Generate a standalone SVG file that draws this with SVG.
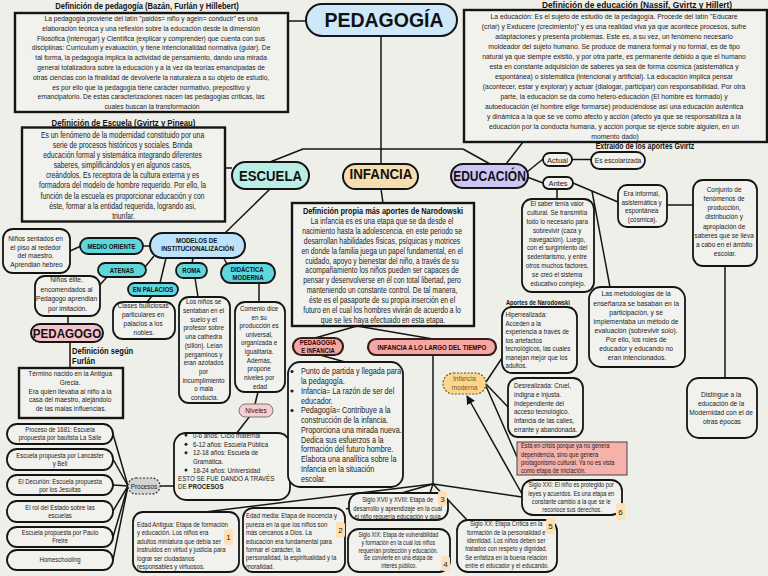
<svg xmlns="http://www.w3.org/2000/svg" width="768" height="576" viewBox="0 0 768 576">
<defs>
<style>
.t{font-family:"Liberation Sans",Arial,sans-serif;fill:#222}
.k{fill:#111}
.m{text-anchor:middle}
.b{font-weight:bold}
.bx{fill:#f1f1ed;stroke:#151515;stroke-width:1.8}
.sq{fill:#f1f1ed;stroke:#151515;stroke-width:2.4}
.ln{stroke:#151515;stroke-width:1.5;fill:none}
.pl{stroke:#151515;stroke-width:2}
.cy{fill:#5dd6dc;stroke:#151515;stroke-width:1.8}
.sal{fill:#f5a8a3;stroke:#3a1a1a;stroke-width:2.2}
.bd{fill:#fde1b4}
</style>
<marker id="ah" viewBox="0 0 10 10" refX="9" refY="5" markerWidth="6" markerHeight="6" orient="auto"><path d="M0,0 L10,5 L0,10z" fill="#151515"/></marker>
</defs>
<rect width="768" height="576" fill="#efefea"/>

<g id="connectors">
<line class="ln" x1="288" y1="21" x2="306" y2="21"/>
<line class="ln" x1="381" y1="36" x2="381" y2="164"/>
<line class="ln" x1="303" y1="149" x2="463" y2="149"/>
<line class="ln" x1="303" y1="149" x2="270" y2="162"/>
<line class="ln" x1="463" y1="149" x2="490" y2="164"/>
<line class="ln" x1="523" y1="142" x2="506" y2="164"/>
<line class="ln" x1="225" y1="168" x2="232" y2="168"/>
<line class="ln" x1="270" y1="189" x2="224" y2="234"/>
<line class="ln" x1="381" y1="189" x2="383" y2="203"/>
<line class="ln" x1="527" y1="172" x2="543" y2="159"/>
<line class="ln" x1="527" y1="177" x2="543" y2="183"/>
<line class="ln" x1="572" y1="159.5" x2="591" y2="159.5"/>
<line class="ln" x1="573" y1="183" x2="618" y2="202"/>
<line class="ln" x1="592" y1="191" x2="610" y2="287"/>
<line class="ln" x1="557" y1="189" x2="557" y2="199"/>
<line class="ln" x1="667" y1="205" x2="693" y2="205" stroke-width="2.2"/>
<line class="ln" x1="725" y1="266" x2="725" y2="378" stroke-width="2.2"/>
<line class="ln" x1="143" y1="246" x2="150" y2="246"/>
<line class="ln" x1="70" y1="251" x2="81" y2="246"/>
<line class="ln" x1="145" y1="267" x2="154" y2="256"/>
<line class="ln" x1="160" y1="283" x2="166" y2="258"/>
<line class="ln" x1="98" y1="287" x2="107" y2="277"/>
<line class="ln" x1="152" y1="296" x2="147" y2="302"/>
<line class="ln" x1="193" y1="258" x2="192" y2="263"/>
<line class="ln" x1="222" y1="255" x2="227" y2="264"/>
<line class="ln" x1="195" y1="278" x2="198" y2="297"/>
<line class="ln" x1="259" y1="283" x2="259" y2="302"/>
<line class="ln" x1="258" y1="392" x2="255" y2="404"/>
<line class="ln" x1="250" y1="416" x2="236" y2="434"/>
<line class="ln" x1="68" y1="316" x2="68" y2="324"/>
<line class="ln" x1="70" y1="342" x2="70" y2="368"/>
<line class="ln" x1="113" y1="434" x2="128" y2="486"/>
<line class="ln" x1="113" y1="459" x2="128" y2="486"/>
<line class="ln" x1="113" y1="485" x2="128" y2="486"/>
<line class="ln" x1="113" y1="511" x2="128" y2="486"/>
<line class="ln" x1="113" y1="537" x2="128" y2="486"/>
<line class="ln" x1="113" y1="560" x2="128" y2="486"/>
<line class="ln" x1="160" y1="486" x2="174" y2="486"/>
<line class="ln" x1="357" y1="326" x2="315" y2="338"/>
<line class="ln" x1="357" y1="326" x2="433" y2="339"/>
<line class="ln" x1="320" y1="355" x2="345" y2="362"/>
<line class="ln" x1="433" y1="355" x2="433" y2="484"/>
<line class="ln" x1="433" y1="484" x2="205" y2="512"/>
<line class="ln" x1="433" y1="484" x2="346" y2="509"/>
<line class="ln" x1="433" y1="484" x2="430" y2="493"/>
<line class="ln" x1="433" y1="484" x2="468" y2="521"/>
<line class="ln" x1="433" y1="484" x2="522" y2="497"/>
<line class="ln" x1="522" y1="494" x2="467" y2="396" marker-end="url(#ah)"/>
<line class="ln" x1="486" y1="382" x2="502" y2="358"/>
<line class="ln" x1="486" y1="384" x2="508" y2="407"/>
<line class="ln" x1="486" y1="386" x2="517" y2="457"/>
</g>

<g id="n-def-pedagogia">
<g transform="translate(147 0) scale(.8 1)"><text class="t k b m" font-size="9.5" x="0" y="9.3">Definición de pedagogía (Bazán, Furlán y Hillebert)</text></g>
<rect class="sq" x="15" y="13" width="273" height="99"/>
<g transform="translate(152 0) scale(.83 1)"><text class="t m" font-size="8">
<tspan x="0" y="21">La pedagogía proviene del latín "paidós= niño y agein= conducir" es una</tspan>
<tspan x="0" y="30.8">elaboración teórica y una reflexión sobre la educación desde la dimensión</tspan>
<tspan x="0" y="40.6">Filosófica (interrogar) y Científica (explicar y comprender) que cuenta con sus</tspan>
<tspan x="0" y="50.4">disciplinas: Curriculum y evaluación, y tiene intencionalidad normativa (guiar). De</tspan>
<tspan x="0" y="60.2">tal forma, la pedagogía implica la actividad de pensamiento, dando una mirada</tspan>
<tspan x="0" y="70">general  totalizadora sobre la educación y a la vez da teorías emancipadas de</tspan>
<tspan x="0" y="79.8">otras ciencias con la finalidad de devolverle la naturaleza a su objeto de estudio,</tspan>
<tspan x="0" y="89.6">es por ello que la pedagogía tiene carácter normativo, prepositivo y</tspan>
<tspan x="0" y="99.4">emancipatorio. De estas caracterizaciones nacen las pedagogías críticas, las</tspan>
<tspan x="0" y="109.2">cuales buscan la transformación</tspan>
</text></g>
</g>

<g id="n-pedagogia">
<rect x="306" y="4" width="151" height="32" rx="16" fill="#cde8fb" class="pl"/>
<text class="t k b m" font-size="19.5" x="384" y="27.3">PEDAGOGÍA</text>
</g>

<g id="n-def-educacion">
<g transform="translate(637 0) scale(.88 1)"><text class="t k b m" font-size="9.5" x="0" y="8.3">Definición de educación (Nassif, Gvirtz y Hillert)</text></g>
<rect class="sq" x="464" y="10" width="303" height="132"/>
<g transform="translate(615 0) scale(.85 1)"><text class="t m" font-size="8">
<tspan x="0" y="19">La educación: Es el sujeto de estudio de la pedagogía. Procede del latín "Educare</tspan>
<tspan x="0" y="29">(criar) y Exducere (crecimiento)" y es una realidad viva ya que acontece procesos, sufre</tspan>
<tspan x="0" y="39">adaptaciones y presenta problemas. Este es, a su vez, un fenómeno necesario</tspan>
<tspan x="0" y="49">moldeador del sujeto humano. Se produce de manera formal y no formal, es de tipo</tspan>
<tspan x="0" y="59">natural ya que siempre existió, y por otra parte,  es permanente debido a que el humano</tspan>
<tspan x="0" y="69">esta en constante adquisición de saberes ya sea de forma cósmica (asistemática y</tspan>
<tspan x="0" y="79">espontánea) o sistemática (intencional y artificial). La educación implica pensar</tspan>
<tspan x="0" y="89">(acontecer, estar y explorar) y actuar (dialogar, participar) con responsabilidad. Por otra</tspan>
<tspan x="0" y="99">parte, la educación se da como hetero-educación (El hombre es formado) y</tspan>
<tspan x="0" y="109">autoeducación (el hombre elige formarse) produciéndose así  una educación auténtica</tspan>
<tspan x="0" y="119">y dinámica a la que se ve como afecto y acción (afecto ya que se responsabiliza a la</tspan>
<tspan x="0" y="129">educación por la conducta humana, y acción porque se ejerce sobre alguien, en un</tspan>
<tspan x="0" y="139">momento dado)</tspan>
</text></g>
</g>

<g id="n-def-escuela">
<g transform="translate(123.5 0) scale(.82 1)"><text class="t k b m" font-size="9.5" x="0" y="126">Definición de Escuela (Gvirtz y Pineau)</text></g>
<rect class="sq" x="22" y="127.5" width="203" height="94"/>
<g transform="translate(123.5 0) scale(.82 1)"><text class="t m" font-size="8.3">
<tspan x="0" y="138">Es un fenómeno de la modernidad constituido por una</tspan>
<tspan x="0" y="148.1">serie de procesos históricos y sociales. Brinda</tspan>
<tspan x="0" y="158.2">educación formal y sistemática integrando diferentes</tspan>
<tspan x="0" y="168.3">saberes, simplificándolos y en algunos casos,</tspan>
<tspan x="0" y="178.4">creándolos. Es receptora de la cultura externa y es</tspan>
<tspan x="0" y="188.5">formadora del modelo de hombre requerido. Por ello,  la</tspan>
<tspan x="0" y="198.6">función de la escuela es proporcionar educación y con</tspan>
<tspan x="0" y="208.7">éste, formar a la entidad requerida,  logrando asi,</tspan>
<tspan x="0" y="218.6">triunfar.</tspan>
</text></g>
</g>

<g id="n-escuela">
<rect x="232" y="162" width="77" height="27" rx="13.5" fill="#b9eee5" class="pl"/>
<g transform="translate(270.5 0) scale(.85 1)"><text class="t k b m" font-size="15.5" x="0" y="181.5">ESCUELA</text></g>
</g>

<g id="n-infancia">
<rect x="343" y="164" width="75" height="25" rx="12.5" fill="#f6deb0" class="pl"/>
<g transform="translate(381 0) scale(.86 1)"><text class="t k b m" font-size="15.5" x="0" y="179.5">INFANCIA</text></g>
</g>

<g id="n-educacion">
<rect x="451" y="164" width="77" height="24" rx="12" fill="#cdc5f5" class="pl"/>
<g transform="translate(489.5 0) scale(.8 1)"><text class="t k b m" font-size="15" x="0" y="181.5">EDUCACIÓN</text></g>
</g>

<g id="n-extraido">
<g transform="translate(645 0) scale(.82 1)"><text class="t k b m" font-size="8.5" x="0" y="149">Extraído de los aportes Gvirtz</text></g>
</g>

<g id="n-actual">
<rect class="bx" x="543" y="153" width="29" height="13" rx="6.5"/>
<text class="t m" font-size="7.5" x="557.5" y="162.5">Actual</text>
</g>
<g id="n-escolarizada">
<rect class="bx" x="591" y="152" width="54" height="17" rx="8.5"/>
<g transform="translate(618 0) scale(.88 1)"><text class="t m" font-size="7.5" x="0" y="163.5">Es escolarizada</text></g>
</g>
<g id="n-antes">
<rect class="bx" x="543" y="177" width="30" height="12" rx="6"/>
<text class="t m" font-size="7.5" x="558" y="186">Antes</text>
</g>

<g id="n-saber">
<rect class="bx" x="522" y="199" width="72" height="93" rx="10"/>
<g transform="translate(558 0) scale(.83 1)"><text class="t m" font-size="7.5">
<tspan x="0" y="206">El saber tenía valor</tspan>
<tspan x="0" y="214.9">cultural. Se transmitía</tspan>
<tspan x="0" y="223.8">todo lo necesario para</tspan>
<tspan x="0" y="232.7">sobrevivir (caza y</tspan>
<tspan x="0" y="241.6">navegación). Luego,</tspan>
<tspan x="0" y="250.5">con el surgimiento del</tspan>
<tspan x="0" y="259.4">sedentarismo, y entre</tspan>
<tspan x="0" y="268.3">otros muchos factores,</tspan>
<tspan x="0" y="277.2">se creó el sistema</tspan>
<tspan x="0" y="286.1">educativo complejo.</tspan>
</text></g>
</g>

<g id="n-informal">
<rect class="bx" x="618" y="185" width="49" height="42" rx="9"/>
<g transform="translate(642.5 0) scale(.85 1)"><text class="t m" font-size="7.5">
<tspan x="0" y="196">Era informal,</tspan>
<tspan x="0" y="204.7">asistemática y</tspan>
<tspan x="0" y="213.4">espontánea</tspan>
<tspan x="0" y="222.1">(cósmica).</tspan>
</text></g>
</g>

<g id="n-conjunto">
<rect class="bx" x="693" y="180" width="64" height="86" rx="10"/>
<g transform="translate(725 0) scale(.83 1)"><text class="t m" font-size="7.8">
<tspan x="0" y="192">Conjunto de</tspan>
<tspan x="0" y="201.2">fenómenos de</tspan>
<tspan x="0" y="210.3">producción,</tspan>
<tspan x="0" y="219.5">distribución y</tspan>
<tspan x="0" y="228.6">apropiación de</tspan>
<tspan x="0" y="237.8">saberes que se lleva</tspan>
<tspan x="0" y="246.9">a cabo en el ámbito</tspan>
<tspan x="0" y="256">escolar.</tspan>
</text></g>
</g>

<g id="n-metodologias">
<rect class="bx" x="589" y="287" width="96" height="80" rx="12"/>
<g transform="translate(637 0) scale(.86 1)"><text class="t m" font-size="7.8">
<tspan x="0" y="296.5">Las metodologías de la</tspan>
<tspan x="0" y="305.6">enseñanza se basaban en la</tspan>
<tspan x="0" y="314.7">participación, y se</tspan>
<tspan x="0" y="323.8">implementaba un método de</tspan>
<tspan x="0" y="332.9">evaluación (sobrevivir solo).</tspan>
<tspan x="0" y="342.5">Por ello, los roles de</tspan>
<tspan x="0" y="351.5">educador y educando no</tspan>
<tspan x="0" y="360.5">eran intencionados.</tspan>
</text></g>
</g>

<g id="n-distingue">
<rect class="bx" x="687" y="378" width="70" height="60" rx="12"/>
<g transform="translate(722 0) scale(.85 1)"><text class="t m" font-size="7.8">
<tspan x="0" y="396.8">Distingue a la</tspan>
<tspan x="0" y="406">educación de la</tspan>
<tspan x="0" y="415.2">Modernidad con el de</tspan>
<tspan x="0" y="424.4">otras épocas</tspan>
</text></g>
</g>

<g id="n-narodowski">
<rect class="sq" x="292" y="203" width="182" height="123"/>
<g transform="translate(383 0) scale(.82 1)"><text class="t k b m" font-size="9" x="0" y="214">Definición propia más aportes de Narodowski</text></g>
<g transform="translate(383 0) scale(.82 1)"><text class="t m" font-size="8.3">
<tspan x="0" y="224">La infancia es es una etapa que se da desde el</tspan>
<tspan x="0" y="233.9">nacimiento hasta la adolescencia. en este periodo se</tspan>
<tspan x="0" y="243.8">desarrollan habilidades físicas, psíquicas y motrices</tspan>
<tspan x="0" y="253.7">en donde la familia juega un papel fundamental, en el</tspan>
<tspan x="0" y="263.6">cuidado, apoyo y bienestar del niño, a través de su</tspan>
<tspan x="0" y="273.5">acompañamiento los niños pueden ser capaces de</tspan>
<tspan x="0" y="283.4">pensar y desenvolverse en él con total libertad, pero</tspan>
<tspan x="0" y="293.3">manteniendo un constante control. De tal manera,</tspan>
<tspan x="0" y="303.2">éste es el pasaporte de su propia inserción en el</tspan>
<tspan x="0" y="313.1">futuro en el cual los hombres vivirán de acuerdo a lo</tspan>
<tspan x="0" y="323">que se les haya efectuado en esta etapa.</tspan>
</text></g>
</g>

<g id="n-modelos">
<rect x="150" y="233" width="95" height="25" rx="12.5" fill="#bde2fb" class="pl"/>
<g transform="translate(197.5 0) scale(.82 1)"><text class="t k b m" font-size="7.5">
<tspan x="0" y="243.5">MODELOS DE</tspan>
<tspan x="0" y="251.5">INSTITUCIONALIZACIÓN</tspan>
</text></g>
</g>
<g id="n-medio-oriente">
<rect class="cy" x="80" y="238" width="63" height="16" rx="8"/>
<g transform="translate(111.5 0) scale(.86 1)"><text class="t k b m" font-size="7" x="0" y="248.6">MEDIO ORIENTE</text></g>
</g>
<g id="n-atenas">
<rect class="cy" x="98" y="263" width="48" height="14" rx="7"/>
<g transform="translate(122 0) scale(.86 1)"><text class="t k b m" font-size="7" x="0" y="272.6">ATENAS</text></g>
</g>
<g id="n-palacios">
<rect class="cy" x="128" y="283" width="50" height="13" rx="6.5"/>
<g transform="translate(153 0) scale(.86 1)"><text class="t k b m" font-size="7" x="0" y="292.2">EN PALACIOS</text></g>
</g>
<g id="n-roma">
<rect class="cy" x="176" y="263" width="31" height="15" rx="7.5"/>
<g transform="translate(191.5 0) scale(.86 1)"><text class="t k b m" font-size="7" x="0" y="273">ROMA</text></g>
</g>
<g id="n-didactica">
<rect class="cy" x="221" y="263" width="54" height="20" rx="10"/>
<g transform="translate(248 0) scale(.86 1)"><text class="t k b m" font-size="7">
<tspan x="0" y="272">DIDÁCTICA</tspan>
<tspan x="0" y="280">MODERNA</tspan>
</text></g>
</g>

<g id="n-sentados">
<rect class="bx" x="3" y="229" width="67" height="44" rx="10"/>
<g transform="translate(36.5 0) scale(.88 1)"><text class="t m" font-size="7.5">
<tspan x="0" y="241">Niños sentados en</tspan>
<tspan x="0" y="249.6">el piso al rededor</tspan>
<tspan x="0" y="258.2">del maestro.</tspan>
<tspan x="0" y="266.8">Aprendian hebreo</tspan>
</text></g>
</g>
<g id="n-elite">
<rect class="bx" x="35" y="276" width="65" height="40" rx="10"/>
<g transform="translate(67.5 0) scale(.88 1)"><text class="t m" font-size="7.5">
<tspan x="0" y="282.5">Niños élite,</tspan>
<tspan x="0" y="292">encomendados al</tspan>
<tspan x="0" y="301.3">Pedagogo aprendian</tspan>
<tspan x="0" y="310.6">por imitación.</tspan>
</text></g>
</g>
<g id="n-clases">
<rect class="bx" x="113" y="302" width="62" height="37" rx="10"/>
<g transform="translate(144 0) scale(.86 1)"><text class="t m" font-size="7.5">
<tspan x="0" y="308.5">Clases bulliciosas</tspan>
<tspan x="0" y="317.5">particulares en</tspan>
<tspan x="0" y="326.5">palacios a los</tspan>
<tspan x="0" y="335.5">nobles.</tspan>
</text></g>
</g>
<g id="n-roma-txt">
<rect class="bx" x="179" y="297" width="51" height="106" rx="10"/>
<g transform="translate(204.5 0) scale(.84 1)"><text class="t m" font-size="7.5">
<tspan x="0" y="304.2">Los niños se</tspan>
<tspan x="0" y="312.9">sentaban en el</tspan>
<tspan x="0" y="321.7">suelo y el</tspan>
<tspan x="0" y="330.4">profesor sobre</tspan>
<tspan x="0" y="339.1">una cathedra</tspan>
<tspan x="0" y="347.9">(sillón). Leían</tspan>
<tspan x="0" y="356.6">pergaminos y</tspan>
<tspan x="0" y="365.3">eran azotados</tspan>
<tspan x="0" y="374">por</tspan>
<tspan x="0" y="382.8">incumplimiento</tspan>
<tspan x="0" y="391.5">o mala</tspan>
<tspan x="0" y="400.2">conducta.</tspan>
</text></g>
</g>
<g id="n-comenio">
<rect class="bx" x="235" y="302" width="50" height="90" rx="10"/>
<g transform="translate(260 0) scale(.84 1)"><text class="t m" font-size="7.5">
<tspan x="0" y="311">Comenio dice</tspan>
<tspan x="0" y="319.6">en su</tspan>
<tspan x="0" y="328.3">producción es</tspan>
<tspan x="0" y="336.9">universal,</tspan>
<tspan x="0" y="345.5">organizada e</tspan>
<tspan x="0" y="354.2">igualitaria.</tspan>
<tspan x="0" y="362.8">Además,</tspan>
<tspan x="0" y="371.4">propone</tspan>
<tspan x="0" y="380">niveles por</tspan>
<tspan x="0" y="388.7">edad</tspan>
</text></g>
</g>
<g id="n-niveles">
<rect x="239" y="404" width="34" height="13" rx="6.5" fill="#f8cdd3" stroke="#777" stroke-width="1"/>
<g transform="translate(256 0) scale(.88 1)"><text class="t m" font-size="7.5" x="0" y="413.3">Niveles</text></g>
</g>

<g id="n-pedagogo">
<rect x="31" y="324" width="72" height="18" rx="9" fill="#f5c4cb" class="pl"/>
<g transform="translate(67 0) scale(.86 1)"><text class="t k b m" font-size="13.5" x="0" y="338">PEDAGOGO</text></g>
</g>

<g id="n-furlan">
<g transform="translate(72 0) scale(.8 1)"><text class="t k b" font-size="9.5">
<tspan x="0" y="354.5">Definición según</tspan>
<tspan x="0" y="364.5">Furlán</tspan>
</text></g>
<rect class="sq" x="19" y="368" width="104" height="50"/>
<g transform="translate(71 0) scale(.84 1)"><text class="t m" font-size="7.7">
<tspan x="0" y="376">Término nacido en la Antigua</tspan>
<tspan x="0" y="384.7">Grecia.</tspan>
<tspan x="0" y="393.6">Era quien llevaba al niño a la</tspan>
<tspan x="0" y="402.5">casa del maestro, alejándolo</tspan>
<tspan x="0" y="411.4">de las malas influencias.</tspan>
</text></g>
</g>

<g id="n-niveles-box">
<rect class="bx" x="174" y="433" width="116" height="67" rx="12"/>
<circle cx="186" cy="435" r="1.5" fill="#222"/>
<circle cx="186" cy="444.3" r="1.5" fill="#222"/>
<circle cx="186" cy="452.7" r="1.5" fill="#222"/>
<circle cx="186" cy="470" r="1.5" fill="#222"/>
<g transform="translate(178 0) scale(.83 1)"><text class="t" font-size="7.5">
<tspan x="18" y="437.7">0-6 años: Ciclo maternal</tspan>
<tspan x="18" y="447">6-12 años: Escuela Pública</tspan>
<tspan x="18" y="455.4">12-18 años: Escuela de</tspan>
<tspan x="18" y="464.4">Gramática.</tspan>
<tspan x="18" y="472.7">18-24 años: Universidad</tspan>
<tspan x="0" y="481">ESTO SE FUE DANDO A TRAVÉS</tspan>
<tspan x="0" y="489.4">DE <tspan class="b">PROCESOS</tspan></tspan>
</text></g>
</g>

<g id="n-procesos">
<rect x="128" y="478" width="32" height="16" rx="8" fill="#d3d3d3" stroke="#333" stroke-width="1.2" stroke-dasharray="2 1.5"/>
<g transform="translate(144 0) scale(.85 1)"><text class="t m" font-size="7.5" x="0" y="489">Procesos</text></g>
</g>

<g id="n-proc-1">
<rect class="bx" x="7" y="424" width="106" height="20" rx="10"/>
<g transform="translate(60 0) scale(.82 1)"><text class="t m" font-size="7.3"><tspan x="0" y="432.5">Proceso de 1681: Escuela</tspan><tspan x="0" y="440.5">propuesta por bautista La Salle</tspan></text></g>
</g>
<g id="n-proc-2">
<rect class="bx" x="7" y="449" width="106" height="21" rx="10"/>
<g transform="translate(60 0) scale(.82 1)"><text class="t m" font-size="7.3"><tspan x="0" y="458">Escuela propuesta por Lancáster</tspan><tspan x="0" y="466">y Bell</tspan></text></g>
</g>
<g id="n-proc-3">
<rect class="bx" x="7" y="475" width="106" height="20" rx="10"/>
<g transform="translate(60 0) scale(.82 1)"><text class="t m" font-size="7.3"><tspan x="0" y="484">El Decurión: Escuela propuesta</tspan><tspan x="0" y="492.2">por los Jesuitas</tspan></text></g>
</g>
<g id="n-proc-4">
<rect class="bx" x="7" y="501" width="106" height="21" rx="10"/>
<g transform="translate(60 0) scale(.82 1)"><text class="t m" font-size="7.3"><tspan x="0" y="510.3">El rol del Estado sobre las</tspan><tspan x="0" y="518.3">escuelas</tspan></text></g>
</g>
<g id="n-proc-5">
<rect class="bx" x="7" y="527" width="106" height="20" rx="10"/>
<g transform="translate(60 0) scale(.82 1)"><text class="t m" font-size="7.3"><tspan x="0" y="535">Escuela propuesta por Paulo</tspan><tspan x="0" y="543.3">Freire</tspan></text></g>
</g>
<g id="n-proc-6">
<rect class="bx" x="7" y="550" width="106" height="20" rx="10"/>
<g transform="translate(60 0) scale(.82 1)"><text class="t m" font-size="7.3" x="0" y="562.5">Homeschooling</text></g>
</g>

<g id="n-pedagogia-infancia">
<rect class="sal" x="293" y="338" width="50" height="17" rx="8.5"/>
<g transform="translate(318 0) scale(.85 1)"><text class="t b m" font-size="7" style="fill:#2a0505"><tspan x="0" y="345.3">PEDAGOGÍA</tspan><tspan x="0" y="353">E INFANCIA</tspan></text></g>
</g>
<g id="n-infancia-tiempo">
<rect class="sal" x="368" y="339" width="128" height="16" rx="8"/>
<g transform="translate(432 0) scale(.83 1)"><text class="t b m" font-size="7.5" style="fill:#2a0505" x="0" y="350">INFANCIA A LO LARGO DEL TIEMPO</text></g>
</g>

<g id="n-bullets">
<rect class="bx" x="288" y="362" width="115" height="125" rx="12"/>
<circle cx="292" cy="371.5" r="1.6" fill="#222"/>
<circle cx="292" cy="391" r="1.6" fill="#222"/>
<circle cx="292" cy="410.5" r="1.6" fill="#222"/>
<g transform="translate(301 0) scale(.85 1)"><text class="t" font-size="8.5">
<tspan x="0" y="374.5">Punto de partida y llegada para</tspan>
<tspan x="0" y="384.3">la pedagogía.</tspan>
<tspan x="0" y="394">Infancia= La razón de ser del</tspan>
<tspan x="0" y="403.8">educador.</tspan>
<tspan x="0" y="413.5">Pedagogía= Contribuye a la</tspan>
<tspan x="0" y="423.3">construcción de la infancia.</tspan>
<tspan x="0" y="433">Proporciona una mirada nueva.</tspan>
<tspan x="0" y="442.8">Dedica sus esfuerzos a la</tspan>
<tspan x="0" y="452.5">formación del futuro hombre.</tspan>
<tspan x="0" y="462.3">Elabora una analítica sobre la</tspan>
<tspan x="0" y="472">Infancia en la situación</tspan>
<tspan x="0" y="481.8">escolar.</tspan>
</text></g>
</g>

<g id="n-infancia-moderna">
<rect x="443" y="373" width="43" height="21" rx="10.5" fill="#fdd68a" stroke="#6a5520" stroke-width="1.2" stroke-dasharray="2 1.5"/>
<g transform="translate(464.5 0) scale(.88 1)"><text class="t m" font-size="7.5" style="fill:#6b5a3a"><tspan x="0" y="381">Infancia</tspan><tspan x="0" y="390">moderna</tspan></text></g>
</g>

<g id="n-aportes-label">
<g transform="translate(506 0) scale(.88 1)"><text class="t k b" font-size="6.5" x="0" y="305.5">Aportes de Narodowski</text></g>
</g>
<g id="n-hiper">
<rect class="bx" x="502" y="307" width="75" height="66" rx="10"/>
<g transform="translate(505.5 0) scale(.82 1)"><text class="t" font-size="7.5">
<tspan x="0" y="317.5">Hiperrealizada:</tspan>
<tspan x="0" y="326">Acceden a la</tspan>
<tspan x="0" y="334.5">experiencia a través de</tspan>
<tspan x="0" y="343">los artefactos</tspan>
<tspan x="0" y="351.5">tecnológicos, las cuales</tspan>
<tspan x="0" y="360">manejan mejor que los</tspan>
<tspan x="0" y="368.5">adultos.</tspan>
</text></g>
</g>
<g id="n-desreal">
<rect class="bx" x="508" y="378" width="75" height="59" rx="10"/>
<g transform="translate(514 0) scale(.84 1)"><text class="t" font-size="7.5">
<tspan x="0" y="388.2">Desrealizada: Cruel,</tspan>
<tspan x="0" y="396.9">indigna e injusta.</tspan>
<tspan x="0" y="405.6">Independiente del</tspan>
<tspan x="0" y="414.3">acceso tecnológico.</tspan>
<tspan x="0" y="423">Infancia de las calles,</tspan>
<tspan x="0" y="431.7">errante y abandonada.</tspan>
</text></g>
</g>
<g id="n-crisis">
<rect x="517" y="442" width="110" height="33" fill="#f6b1ab" stroke="#444" stroke-width="1"/>
<g transform="translate(521 0) scale(.82 1)"><text class="t" font-size="7">
<tspan x="0" y="448.5">Está en crisis porque ya no genera</tspan>
<tspan x="0" y="456.6">dependencia, sino que genera</tspan>
<tspan x="0" y="464.7">protagonismo cultural. Ya no es vista</tspan>
<tspan x="0" y="472.8">como etapa de iniciación.</tspan>
</text></g>
</g>

<g id="n-antigua">
<rect class="bx" x="133" y="512" width="106" height="60" rx="10"/>
<rect class="bd" x="224" y="529" width="9" height="16" rx="3"/>
<text class="t m" font-size="8" x="228.5" y="540">1</text>
<g transform="translate(137 0) scale(.8 1)"><text class="t" font-size="7.5">
<tspan x="0" y="527">Edad Antigua: Etapa de formación</tspan>
<tspan x="0" y="535.4">y educación. Los niños era</tspan>
<tspan x="0" y="543.8">adultos miniatura que debía ser</tspan>
<tspan x="0" y="552.2">instruidos en virtud y justicia para</tspan>
<tspan x="0" y="560.6">lograr ser ciudadanos</tspan>
<tspan x="0" y="569">responsables y virtuosos.</tspan>
</text></g>
</g>
<g id="n-media">
<rect class="bx" x="243" y="508" width="102" height="64" rx="10"/>
<rect class="bd" x="336" y="522" width="9" height="16" rx="3"/>
<text class="t m" font-size="8" x="340.5" y="533">2</text>
<g transform="translate(246 0) scale(.8 1)"><text class="t" font-size="7.5">
<tspan x="0" y="518.5">Edad media: Etapa de inocencia y</tspan>
<tspan x="0" y="526.9">pureza en la que los niños son</tspan>
<tspan x="0" y="535.3">más cercanos a Dios. La</tspan>
<tspan x="0" y="543.7">educación era fundamental para</tspan>
<tspan x="0" y="552.1">formar el carácter, la</tspan>
<tspan x="0" y="560.5">personalidad, la espiritualidad y la</tspan>
<tspan x="0" y="568.9">moralidad.</tspan>
</text></g>
</g>
<g id="n-xvii">
<rect class="bx" x="349" y="493" width="99" height="27" rx="11"/>
<rect class="bd" x="438" y="491" width="9" height="15" rx="3"/>
<text class="t m" font-size="8" x="442.5" y="501.5">3</text>
<g transform="translate(398.5 0) scale(.8 1)"><text class="t m" font-size="7.3">
<tspan x="0" y="502.5">Siglo XVII y XVIII: Etapa de</tspan>
<tspan x="0" y="510.8">desarrollo y aprendizaje en la cual</tspan>
<tspan x="0" y="519">el niño requería educación y guía.</tspan>
</text></g>
</g>
<g id="n-xix">
<rect class="bx" x="348" y="529" width="102" height="43" rx="11"/>
<rect class="bd" x="441" y="556" width="9" height="15" rx="3"/>
<text class="t m" font-size="8" x="445.5" y="566.5">4</text>
<g transform="translate(399 0) scale(.8 1)"><text class="t m" font-size="6.6">
<tspan x="0" y="537.5">Siglo XIX: Etapa de vulnerabilidad</tspan>
<tspan x="0" y="545.1">y formación en la cual los niños</tspan>
<tspan x="0" y="552.7">requerían protección y educación.</tspan>
<tspan x="0" y="560.3">Se convierte en una etapa de</tspan>
<tspan x="0" y="567.9">interés público.</tspan>
</text></g>
</g>
<g id="n-xx">
<rect class="bx" x="457" y="520" width="100" height="52" rx="11"/>
<rect class="bd" x="546" y="518" width="9" height="16" rx="3"/>
<text class="t m" font-size="8" x="550.5" y="529">5</text>
<g transform="translate(507 0) scale(.8 1)"><text class="t m" font-size="7.2">
<tspan x="0" y="526.5">Siglo XX: Etapa Crítica en la</tspan>
<tspan x="0" y="534.8">formación de la personalidad e</tspan>
<tspan x="0" y="543.1">identidad. Los niños deben ser</tspan>
<tspan x="0" y="551.4">tratados con respeto y dignidad.</tspan>
<tspan x="0" y="559.7">Se enfatiza  en la buena relación</tspan>
<tspan x="0" y="568">entre el educador y el educando.</tspan>
</text></g>
</g>
<g id="n-xxi">
<rect class="bx" x="522" y="480" width="100" height="35" rx="11"/>
<rect class="bd" x="616" y="503" width="9" height="17" rx="3"/>
<text class="t m" font-size="8" x="620.5" y="515">6</text>
<g transform="translate(572 0) scale(.78 1)"><text class="t m" font-size="7.2">
<tspan x="0" y="487.5">Siglo XXI: El niño es protegido por</tspan>
<tspan x="0" y="495.8">leyes y acuerdos. Es una etapa en</tspan>
<tspan x="0" y="504.1">constante cambio a la que se le</tspan>
<tspan x="0" y="512.4">reconoce sus derechos.</tspan>
</text></g>
</g>
</svg>
